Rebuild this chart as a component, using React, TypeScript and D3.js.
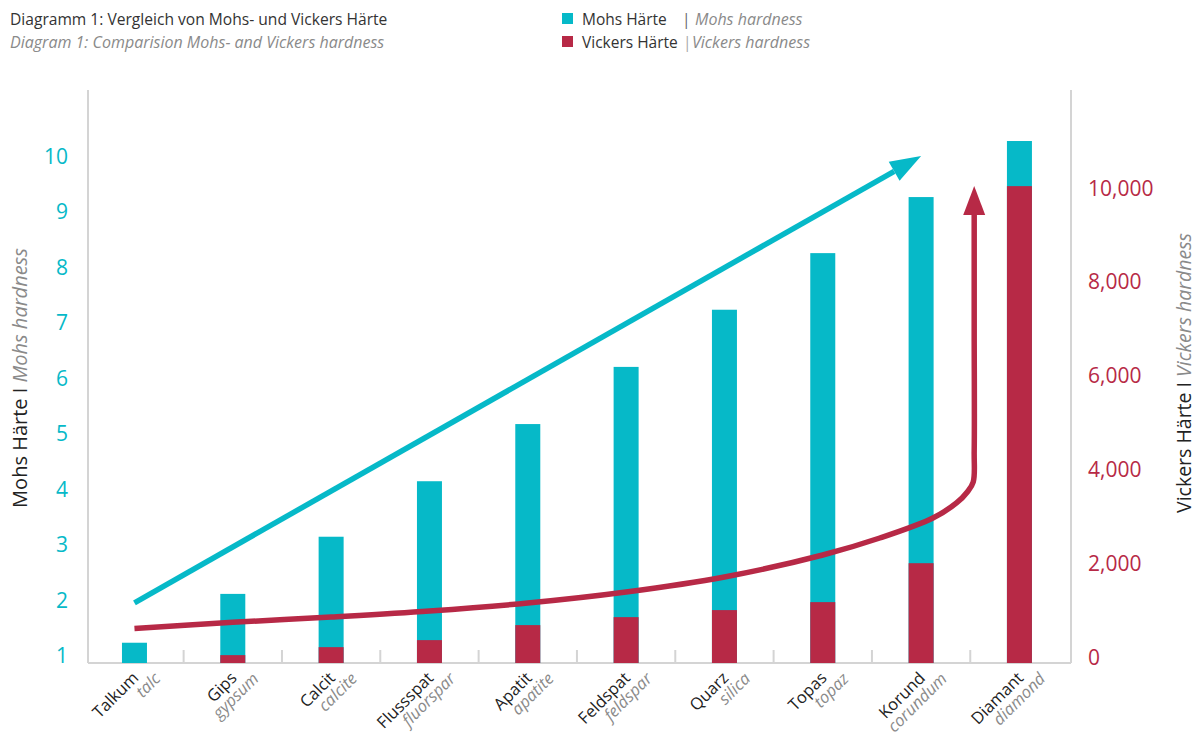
import React from 'react';
import * as d3 from 'd3';

// ---------- data ----------
const categoriesDe = ['Talkum', 'Gips', 'Calcit', 'Flussspat', 'Apatit', 'Feldspat', 'Quarz', 'Topas', 'Korund', 'Diamant'];
const categoriesEn = ['talc', 'gypsum', 'calcite', 'fluorspar', 'apatite', 'feldspar', 'silica', 'topaz', 'corundum', 'diamond'];
const mohsValues = [1.23, 2.11, 3.14, 4.14, 5.17, 6.2, 7.23, 8.25, 9.26, 10.27];
const vickersValues = [0, 40, 210, 360, 680, 850, 1000, 1170, 2000, 10040];
const mohsTicks = [1, 2, 3, 4, 5, 6, 7, 8, 9, 10];
const vickersTicks = [0, 2000, 4000, 6000, 8000, 10000];
// trend arrows: [category position, value]
const mohsTrend: [number, number][] = [[0, 1.95], [8, 10]];
const vickersTrend: [number, number][] = [
  [0, 610], [1, 740], [2, 853], [3, 981], [4, 1151], [5, 1386], [6, 1706], [7, 2175],
  [7.58, 2537], [8.12, 2964], [8.36, 3284], [8.47, 3518], [8.53, 3731], [8.54, 4390], [8.54, 7000], [8.54, 10040],
];

const CYAN = '#06b9c8';
const CRIMSON = '#b72946';
const AXIS = '#d4d4d4';
const DARK = '#222222';
const GREY = '#8a8a8a';
const FONT = '"Open Sans", "Noto Sans", sans-serif';

const W = 1197;
const H = 735;
const plotLeft = 88;
const plotRight = 1071;
const plotTop = 90;
const plotBottom = 663;

function arrowHead(from: [number, number], tip: [number, number], len: number, half: number) {
  const dx = tip[0] - from[0];
  const dy = tip[1] - from[1];
  const d = Math.hypot(dx, dy);
  const ux = dx / d, uy = dy / d;
  const bx = tip[0] - ux * len, by = tip[1] - uy * len;
  const px = -uy, py = ux;
  return {
    base: [bx, by] as [number, number],
    points: `${tip[0]},${tip[1]} ${bx + px * half},${by + py * half} ${bx - px * half},${by - py * half}`,
  };
}

export default function App() {
  const x = d3.scaleBand<string>().domain(categoriesDe).range([85.3, 1068.6]).padding(0);
  const step = x.step();
  const xi = d3.scaleLinear().domain([0, 9]).range([(x(categoriesDe[0]) as number) + step / 2, (x(categoriesDe[9]) as number) + step / 2]);
  const yM = d3.scaleLinear().domain([1, 10]).range([655.5, 156]);
  const yV = d3.scaleLinear().domain([0, 10000]).range([657, 188]);
  const barW = 25;

  // mohs trend arrow
  const mStart: [number, number] = [xi(mohsTrend[0][0]), yM(mohsTrend[0][1])];
  const mTip: [number, number] = [xi(mohsTrend[1][0]), yM(mohsTrend[1][1])];
  const mHead = arrowHead(mStart, mTip, 31, 11);

  // vickers trend arrow
  const vPts: [number, number][] = vickersTrend.map(([i, v]) => [xi(i), yV(v)]);
  const vTip = vPts[vPts.length - 1];
  const vPrev = vPts[vPts.length - 2];
  const vHead = arrowHead(vPrev, vTip, 29, 11);
  const vLinePts = [...vPts.slice(0, -1), vHead.base];
  const vLine = d3.line<[number, number]>().x(d => d[0]).y(d => d[1]).curve(d3.curveCatmullRom.alpha(0.5))(vLinePts) as string;

  const fmt = d3.format(',');

  return (
    <svg width={W} height={H} style={{ position: 'absolute', left: 0, top: 0, background: '#fff' }} fontFamily={FONT}>
      {/* title */}
      <text x={10} y={25} fontSize={15.6} fill="#333">Diagramm 1: Vergleich von Mohs- und Vickers Härte</text>
      <text x={10} y={48} fontSize={16} fill={GREY} fontStyle="italic">Diagram 1: Comparision Mohs- and Vickers hardness</text>

      {/* legend */}
      <rect x={562} y={13} width={11} height={11} fill={CYAN} />
      <text x={582} y={25} fontSize={15.5} fill="#333">Mohs Härte</text>
      <text x={682} y={25} fontSize={15.5} fill="#666">|</text>
      <text x={695} y={25} fontSize={16} fill={GREY} fontStyle="italic">Mohs hardness</text>
      <rect x={562} y={36} width={11} height={11} fill={CRIMSON} />
      <text x={582} y={48} fontSize={15.5} fill="#333">Vickers Härte</text>
      <text x={683} y={48} fontSize={15.5} fill="#aaa">|</text>
      <text x={692} y={48} fontSize={16} fill={GREY} fontStyle="italic">Vickers hardness</text>

      {/* axes lines */}
      <line x1={plotLeft} x2={plotLeft} y1={plotTop} y2={plotBottom} stroke={AXIS} strokeWidth={2} />
      <line x1={plotRight} x2={plotRight} y1={plotTop} y2={plotBottom} stroke={AXIS} strokeWidth={2} />
      <line x1={plotLeft} x2={plotRight} y1={plotBottom} y2={plotBottom} stroke={AXIS} strokeWidth={2} />
      {categoriesDe.slice(1).map(c => (
        <line key={c} x1={x(c) as number} x2={x(c) as number} y1={plotBottom} y2={plotBottom - 13} stroke={AXIS} strokeWidth={2} />
      ))}

      {/* left ticks */}
      {mohsTicks.map(t => (
        <text key={t} x={68} y={yM(t)} dy="0.36em" textAnchor="end" fontSize={21} fill={CYAN}>{t}</text>
      ))}
      {/* right ticks */}
      {vickersTicks.map(t => (
        <text key={t} x={1088} y={yV(t)} dy="0.36em" textAnchor="start" fontSize={21} fill={CRIMSON}>{fmt(t)}</text>
      ))}

      {/* axis titles */}
      <text transform={`translate(27,${378}) rotate(-90)`} textAnchor="middle" fontSize={20}>
        <tspan fill={DARK}>Mohs Härte I </tspan>
        <tspan fill={GREY} fontStyle="italic">Mohs hardness</tspan>
      </text>
      <text transform={`translate(1191,${373}) rotate(-90)`} textAnchor="middle" fontSize={19.5}>
        <tspan fill={DARK}>Vickers Härte I </tspan>
        <tspan fill={GREY} fontStyle="italic">Vickers hardness</tspan>
      </text>

      {/* bars */}
      {categoriesDe.map((c, i) => {
        const cx = (x(c) as number) + step / 2;
        return (
          <g key={c}>
            <rect x={cx - barW / 2} y={yM(mohsValues[i])} width={barW} height={plotBottom - yM(mohsValues[i])} fill={CYAN} />
            {vickersValues[i] > 0 && (
              <rect x={cx - barW / 2} y={yV(vickersValues[i])} width={barW} height={plotBottom - yV(vickersValues[i])} fill={CRIMSON} />
            )}
          </g>
        );
      })}

      {/* trend arrows */}
      <line x1={mStart[0]} y1={mStart[1]} x2={mHead.base[0]} y2={mHead.base[1]} stroke={CYAN} strokeWidth={5.5} />
      <polygon points={mHead.points} fill={CYAN} />
      <path d={vLine} fill="none" stroke={CRIMSON} strokeWidth={5.5} />
      <polygon points={vHead.points} fill={CRIMSON} />

      {/* category labels */}
      {categoriesDe.map((c, i) => {
        const cx = (x(c) as number) + step / 2;
        return (
          <g key={c} transform={`translate(${cx + 5},${679}) rotate(-45)`}>
            <text x={0} y={0} textAnchor="end" fontSize={16.5} fill={DARK}>{c}</text>
            <text x={15} y={16} textAnchor="end" fontSize={16.5} fill={GREY} fontStyle="italic">{categoriesEn[i]}</text>
          </g>
        );
      })}
    </svg>
  );
}
